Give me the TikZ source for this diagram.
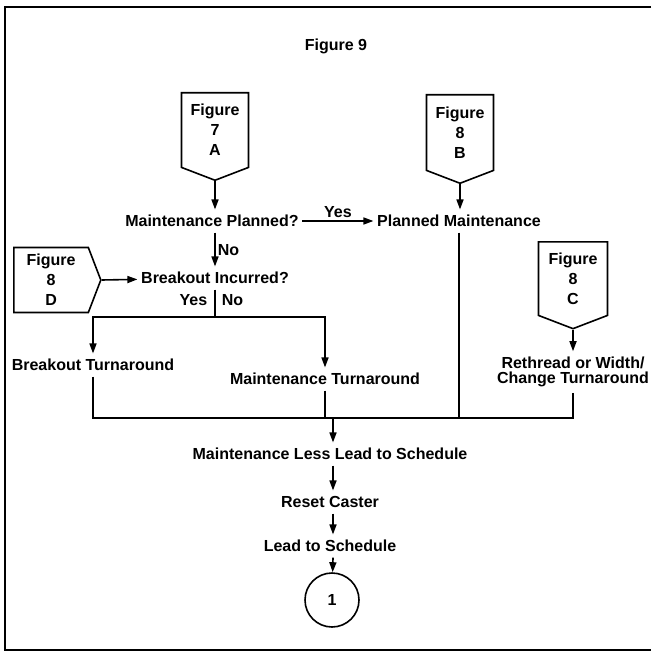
\documentclass[tikz,border=0pt]{standalone}
\usepackage{fontspec}
\setmainfont{Liberation Sans}
\usetikzlibrary{arrows.meta,shapes.symbols}

\begin{document}
\begin{tikzpicture}[x=1pt,y=-1pt,>={Triangle[length=10pt,width=7pt]},line width=1.6pt,
  txt/.style={font=\fontsize{16}{15}\selectfont\bfseries,inner xsep=3pt,inner ysep=5pt,text height=11.5pt,text depth=0pt},
  twoline/.style={font=\fontsize{16}{15}\selectfont\bfseries,inner xsep=3pt,inner ysep=5pt,align=center},
  offpage/.style={draw,signal,signal pointer angle=138,font=\fontsize{16}{20}\selectfont\bfseries,align=center,inner sep=0pt},
  endpt/.style={draw,circle,minimum size=54pt,inner sep=0pt,font=\fontsize{16}{20}\selectfont\bfseries}]
  \useasboundingbox (0,0) rectangle (651,652);
  % frame of the figure
  \draw[line width=2pt] (651,7) -- (5,7) -- (5,650) -- (651,650);
  \node[txt] (title) at (336,45) {Figure 9};
  % off-page connectors
  \node[offpage,signal to=south,minimum width=67pt,minimum height=84pt,anchor=north] (f7a) at (215,92) {Figure\\7\\A};
  \node[offpage,signal to=south,minimum width=67pt,minimum height=85pt,anchor=north] (f8b) at (460,94) {Figure\\8\\B};
  \node[offpage,signal to=south,minimum width=69pt,minimum height=83pt,anchor=north] (f8c) at (573,241) {Figure\\8\\C};
  \node[offpage,signal to=east,minimum width=87pt,minimum height=65pt,anchor=west] (f8d) at (13,280) {Figure\\8\\D};
  % decisions and steps
  \node[txt] (mp) at (212,221) {Maintenance Planned?};
  \node[txt] (pm) at (459,221) {Planned Maintenance};
  \node[txt] (bi) at (215,278) {Breakout Incurred?};
  \node[txt] (bt) at (93,365) {Breakout Turnaround};
  \node[txt] (mt) at (325,379) {Maintenance Turnaround};
  \node[twoline] (rt) at (573,372) {Rethread or Width/\\Change Turnaround};
  \node[txt] (ml) at (330,454) {Maintenance Less Lead to Schedule};
  \node[txt] (rc) at (330,502) {Reset Caster};
  \node[txt] (ls) at (330,546) {Lead to Schedule};
  \node[endpt] (c1) at (332,600) {1};
  \coordinate (split) at (215,317);
  \coordinate (join) at (333,418);
  % connectors
  \draw[->] (f7a.south) -- (f7a.south |- mp.north);
  \draw[->] (f8b.south) -- (f8b.south |- pm.north);
  \draw[->] (mp) -- (pm) node[txt,midway,above=-2pt] (yes1) {Yes};
  \draw[->] (f7a.south |- mp.south) -- (f7a.south |- bi.north) node[txt,midway,right=-1pt] (no1) {No};
  \draw[->] (f8d.east) -- (bi);
  \draw (bi) -- (split);
  \node[txt,anchor=east] (yes2) at (211,300) {Yes};
  \node[txt,anchor=west] (no2) at (218,300) {No};
  \draw[->] (split) -| (bt);
  \draw[->] (split) -| (mt);
  \draw[->] (f8c.south) -- (rt);
  \draw (bt) |- (join);
  \draw (mt) |- (join);
  \draw (pm) |- (join);
  \draw (rt) |- (join);
  \draw[->] (join) -- (join |- ml.north);
  \draw[->] (ml.south -| join) -- (rc.north -| join);
  \draw[->] (rc.south -| join) -- (ls.north -| join);
  \draw[->] (ls.south -| join) -- (c1);
\end{tikzpicture}
\end{document}
